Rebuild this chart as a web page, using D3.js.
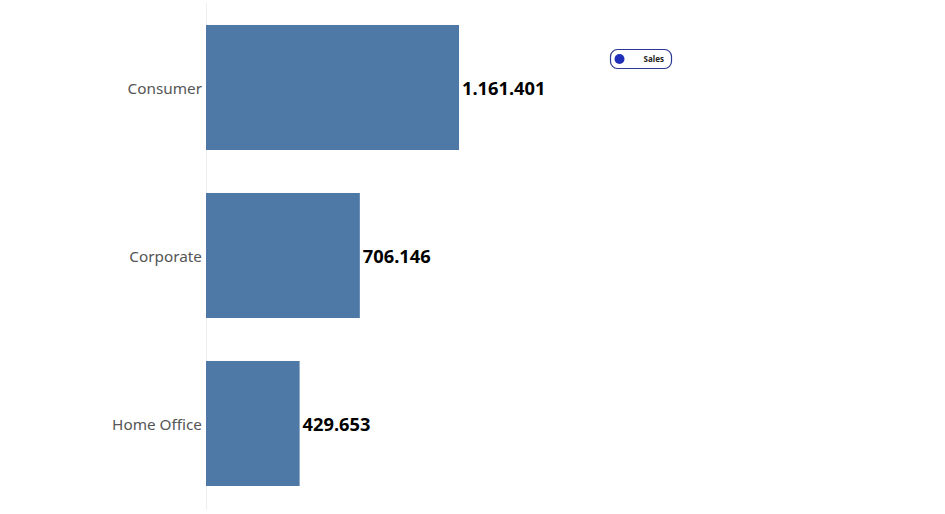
<!DOCTYPE html>
<html><head><meta charset="utf-8">
<script src="https://cdn.jsdelivr.net/npm/d3@7"></script>
<style>body{margin:0;background:#fff}svg{display:block}</style>
</head><body><svg id="c" width="945" height="514"></svg>
<script>
const categories = ["Consumer", "Corporate", "Home Office"];
const sales = [1161401, 706146, 429653];
const legendLabel = "Sales";

const svg = d3.select("#c");
const x0 = 206;
const x = d3.scaleLinear().domain([0, 1161401]).range([x0, 459]);
const y = d3.scaleBand().domain(categories).range([3.5, 507.5]).paddingInner(0.256).paddingOuter(0.128);
const fmt = v => d3.format(",")(v).replace(/,/g, ".");

svg.append("line").attr("x1", x0 + 0.5).attr("x2", x0 + 0.5).attr("y1", 3).attr("y2", 510)
  .attr("stroke", "#eeeeee").attr("stroke-width", 1);

svg.selectAll("rect.bar").data(categories).join("rect").attr("class","bar")
  .attr("x", x0).attr("y", d => y(d)).attr("width", (d,i) => x(sales[i]) - x0)
  .attr("height", y.bandwidth()).attr("fill", "#4e79a7");

svg.selectAll("text.cat").data(categories).join("text").attr("class","cat")
  .attr("x", 202).attr("y", d => y(d) + y.bandwidth()/2 + 1.5).attr("dy", "0.35em")
  .attr("text-anchor", "end").attr("font-family", "Noto Sans, sans-serif")
  .attr("font-size", 15.3).attr("fill", "#555").text(d => d);

svg.selectAll("text.val").data(categories).join("text").attr("class","val")
  .attr("x", (d,i) => x(sales[i]) + 3).attr("y", d => y(d) + y.bandwidth()/2 + 1).attr("dy", "0.35em")
  .attr("font-family", "Noto Sans, sans-serif").attr("font-weight", "bold")
  .attr("font-size", 18.3).attr("fill", "#000").text((d,i) => fmt(sales[i]));

const lg = svg.append("g").attr("transform", "translate(610,49)");
lg.append("rect").attr("x", 0.5).attr("y", 0.5).attr("width", 61).attr("height", 19).attr("rx", 7)
  .attr("fill", "#fff").attr("stroke", "#2b3990").attr("stroke-width", 1.2);
lg.append("circle").attr("cx", 9.5).attr("cy", 10).attr("r", 5).attr("fill", "#1f2fb8");
lg.append("text").attr("x", 54).attr("y", 10).attr("dy", "0.35em").attr("text-anchor", "end")
  .attr("font-family", "Noto Sans, sans-serif").attr("font-weight", "bold").attr("font-size", 8)
  .attr("fill", "#222").text(legendLabel);
</script></body></html>
